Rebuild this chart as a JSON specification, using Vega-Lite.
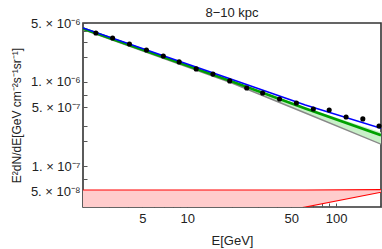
{
  "$schema": "https://vega.github.io/schema/vega-lite/v6.json",
  "width": 298,
  "height": 184,
  "autosize": {"type": "none"},
  "padding": {"left": 83, "top": 23, "right": 1, "bottom": 42},
  "background": "white",
  "title": {"text": "8−10 kpc", "font": "Liberation Sans", "fontSize": 13, "fontWeight": "normal", "color": "#222", "frame": "group", "offset": -3},
  "config": {
    "view": {"stroke": "#333", "strokeWidth": 1.6},
    "axis": {"grid": false, "domain": false, "labelFont": "Liberation Sans", "labelFontSize": 13, "labelColor": "#222", "titleFont": "Liberation Sans", "titleFontSize": 13, "titleFontWeight": "normal", "titleColor": "#222", "tickColor": "#555", "tickSize": -4, "labelOverlap": false, "labelFlush": false}
  },
  "datasets": {
    "points": [
      {"E": 2.44, "v": 3.81e-6}, {"E": 3.16, "v": 3.32e-6}, {"E": 4.10, "v": 2.82e-6}, {"E": 5.33, "v": 2.39e-6},
      {"E": 6.92, "v": 2.03e-6}, {"E": 8.84, "v": 1.73e-6}, {"E": 11.5, "v": 1.43e-6}, {"E": 14.9, "v": 1.24e-6},
      {"E": 19.3, "v": 1.03e-6}, {"E": 25.1, "v": 8.49e-7}, {"E": 32.1, "v": 7.41e-7}, {"E": 41.7, "v": 6.29e-7},
      {"E": 54.1, "v": 5.64e-7}, {"E": 70.3, "v": 4.79e-7}, {"E": 89.8, "v": 4.66e-7}, {"E": 116.6, "v": 3.85e-7},
      {"E": 151, "v": 3.65e-7}, {"E": 194, "v": 3.01e-7}
    ],
    "blue": [{"E": 2, "v": 4.36e-6}, {"E": 19.6, "v": 1.085e-6}, {"E": 62.1, "v": 5.34e-7}, {"E": 200, "v": 2.83e-7}],
    "green": [{"E": 2, "v": 4.30e-6}, {"E": 19.6, "v": 1.027e-6}, {"E": 62.1, "v": 4.85e-7}, {"E": 200, "v": 2.34e-7}],
    "gray": [{"E": 2, "v": 4.19e-6}, {"E": 19.6, "v": 9.86e-7}, {"E": 62.1, "v": 4.29e-7}, {"E": 200, "v": 1.83e-7}],
    "gband": [{"E": 2, "v": 4.36e-6, "v2": 4.19e-6}, {"E": 19.6, "v": 1.05e-6, "v2": 9.86e-7}, {"E": 62.1, "v": 5.0e-7, "v2": 4.29e-7}, {"E": 200, "v": 2.54e-7, "v2": 1.83e-7}],
    "rband": [{"E": 2, "v": 5.25e-8, "v2": 1.01e-8}, {"E": 62.1, "v": 5.25e-8, "v2": 3.30e-8}, {"E": 200, "v": 5.3e-8, "v2": 4.94e-8}]
  },
  "encoding": {
    "x": {
      "field": "E", "type": "quantitative",
      "scale": {"type": "log", "domain": [2, 200], "nice": false},
      "axis": {
        "title": "E[GeV]", "titlePadding": 9, "labelPadding": 9,
        "values": [2, 3, 4, 5, 6, 7, 8, 9, 10, 20, 30, 40, 50, 60, 70, 80, 90, 100, 200],
        "labelExpr": "(datum.value==5||datum.value==10||datum.value==50||datum.value==100) ? format(datum.value,'d') : ''"
      }
    },
    "y": {
      "field": "v", "type": "quantitative",
      "scale": {"type": "log", "domain": [3.3e-8, 5e-6], "nice": false},
      "axis": {
        "title": "E²dN/dE[GeV cm⁻²s⁻¹sr⁻¹]", "titleFontSize": 12, "titlePadding": 7, "labelPadding": 7,
        "values": [5e-6, 4e-6, 3e-6, 2e-6, 1e-6, 7e-7, 5e-7, 3e-7, 2e-7, 1e-7, 7e-8, 5e-8, 4e-8],
        "labelExpr": "abs(datum.value-5e-6)<1e-9 ? '5. × 10⁻⁶' : abs(datum.value-1e-6)<1e-10 ? '1. × 10⁻⁶' : abs(datum.value-5e-7)<1e-11 ? '5. × 10⁻⁷' : abs(datum.value-1e-7)<1e-11 ? '1. × 10⁻⁷' : abs(datum.value-5e-8)<1e-12 ? '5. × 10⁻⁸' : ''"
      }
    }
  },
  "layer": [
    {"data": {"name": "rband"}, "mark": {"type": "area", "color": "#ffcccc", "opacity": 1, "clip": true}, "encoding": {"y2": {"field": "v2"}}},
    {"data": {"name": "rband"}, "mark": {"type": "line", "color": "#ff0000", "strokeWidth": 1.2, "clip": true}, "encoding": {}},
    {"data": {"name": "rband"}, "mark": {"type": "line", "color": "#ff0000", "strokeWidth": 1.2, "clip": true}, "encoding": {"y": {"field": "v2", "type": "quantitative"}}},
    {"data": {"name": "gband"}, "mark": {"type": "area", "color": "#c8f0c8", "opacity": 1, "clip": true}, "encoding": {"y2": {"field": "v2"}}},
    {"data": {"name": "gray"}, "mark": {"type": "line", "color": "#888888", "strokeWidth": 1.4, "clip": true}, "encoding": {}},
    {"data": {"name": "green"}, "mark": {"type": "line", "color": "#00a000", "strokeWidth": 2.6, "clip": true}, "encoding": {}},
    {"data": {"name": "blue"}, "mark": {"type": "line", "color": "#0000ff", "strokeWidth": 1.6, "clip": true}, "encoding": {}},
    {"data": {"name": "points"}, "mark": {"type": "circle", "color": "#000000", "opacity": 1, "size": 26}, "encoding": {}}
  ]
}
